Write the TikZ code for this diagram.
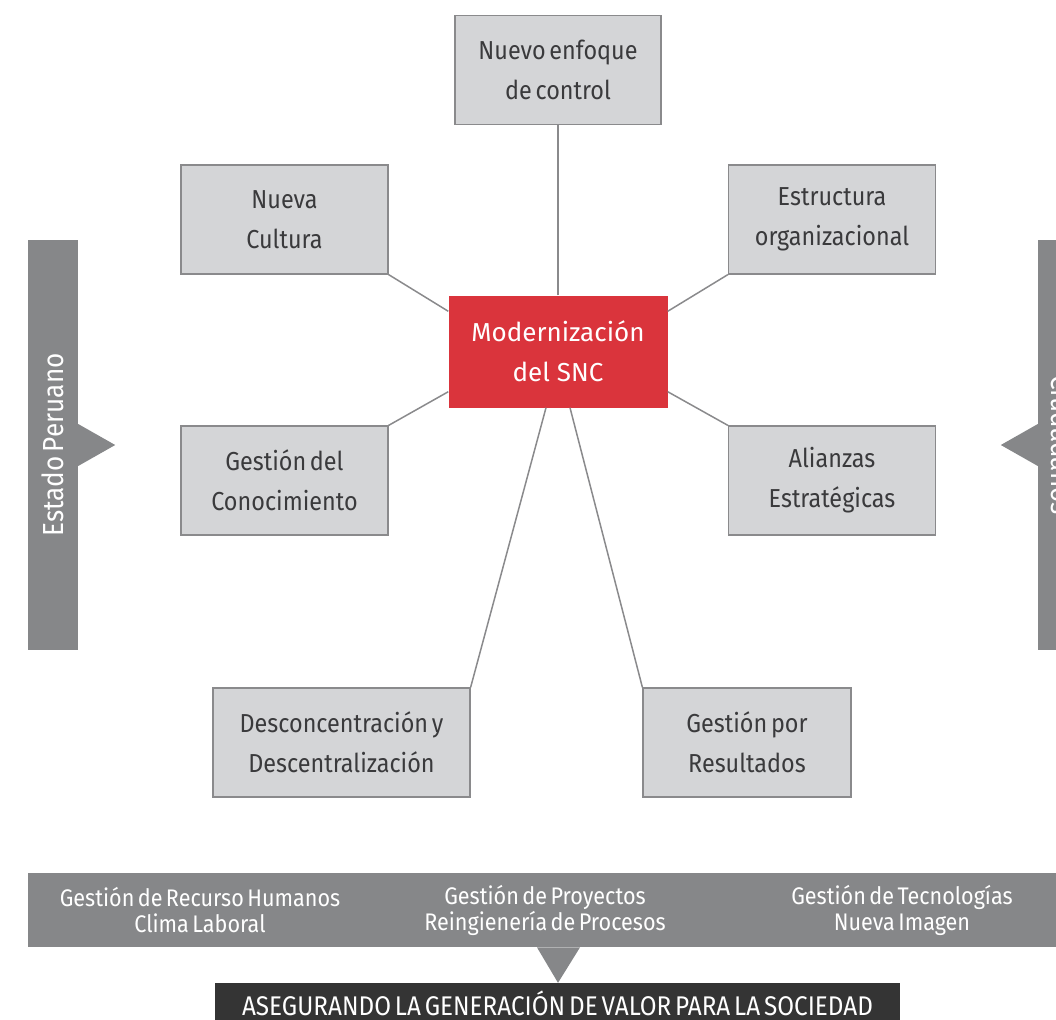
\documentclass[tikz,border=0pt]{standalone}
\usepackage{fontspec}
\setmainfont{Fira Sans}[FakeStretch=0.9, WordSpace=0.6]
\newfontfamily\widefont{Fira Sans}
\definecolor{boxfill}{RGB}{212,213,215}
\definecolor{boxline}{RGB}{138,138,140}
\definecolor{boxtext}{RGB}{58,58,60}
\definecolor{sncred}{RGB}{218,52,60}
\definecolor{barfill}{RGB}{134,135,137}
\definecolor{darkbar}{RGB}{52,52,52}
\tikzset{
  box/.style={draw=boxline, line width=1.2pt, fill=boxfill, shape=rectangle,
    minimum width=207pt, minimum height=109pt, align=center, text=boxtext,
    font=\fontsize{26}{40}\selectfont},
  bar/.style={fill=barfill, shape=rectangle, text=white, inner sep=0pt},
  link/.style={draw=boxline, line width=1.5pt}
}
\begin{document}
\begin{tikzpicture}[x=1pt, y=-1pt]
\useasboundingbox (0,0) rectangle (1056,1019);
% side bars
\node (estado) [bar, rotate=90, minimum width=410pt, minimum height=50pt,
  font=\fontsize{29}{30}\selectfont] at (53,445) {Estado Peruano};
\fill[barfill] ([yshift=21pt]estado.south) -- ([xshift=37pt]estado.south)
  -- ([yshift=-21pt]estado.south) -- cycle;
\node (ciudad) [bar, rotate=-90, minimum width=410pt, minimum height=50pt,
  font=\fontsize{29}{30}\selectfont] at (1063,445) {Ciudadanos};
\fill[barfill] ([yshift=21pt]ciudad.south) -- ([xshift=-37pt]ciudad.south)
  -- ([yshift=-21pt]ciudad.south) -- cycle;
% boxes
\node (ctrl) [box, minimum width=206pt] at (558,70) {Nuevo enfoque\\de control};
\node (cultura) [box] at (284.5,219.5) {Nueva\\Cultura};
\node (estructura) [box] at (832,219.5) {Estructura\\organizacional};
\node (snc) [draw=none, fill=sncred, shape=rectangle, minimum width=219pt,
  minimum height=112pt, align=center, text=white,
  font=\widefont\fontsize{26}{40}\selectfont] at (558,351.5) {Modernización\\del SNC};
\node (conoc) [box] at (284.5,480.5) {Gestión del\\Conocimiento};
\node (alianzas) [box] at (832,480.5) {Alianzas\\Estratégicas};
\node (descon) [box, minimum width=257pt] at (341.5,742.5) {Desconcentración y\\Descentralización};
\node (result) [box, minimum width=208pt] at (747,742.5) {Gestión por\\Resultados};
\draw[link] (snc.north) -- (ctrl.south);
\draw[link] (cultura.south east) -- ([yshift=-16pt]snc.north west);
\draw[link] (estructura.south west) -- ([yshift=-16pt]snc.north east);
\draw[link] (conoc.north east) -- ([yshift=16pt]snc.south west);
\draw[link] (alianzas.north west) -- ([yshift=16pt]snc.south east);
\draw[link] (descon.north east) -- ([xshift=-12pt]snc.south);
\draw[link] (result.north west) -- ([xshift=12pt]snc.south);
% bottom
\node (gestion) [bar, anchor=north west, minimum width=1072pt, minimum height=74pt] at (28,873) {};
\node (rrhh) [align=center, text=white, font=\fontsize{24}{26}\selectfont] at (200,910)
  {Gestión de Recurso Humanos\\Clima Laboral};
\node (proy) [align=center, text=white, font=\fontsize{24}{26}\selectfont] at (545,910)
  {Gestión de Proyectos\\Reingienería de Procesos};
\node (tecno) [align=center, text=white, font=\fontsize{24}{26}\selectfont] at (902,910)
  {Gestión de Tecnologías\\Nueva Imagen};
\node (valor) [fill=darkbar, shape=rectangle, minimum width=685pt, minimum height=40pt,
  text=white, font=\fontsize{27}{28}\selectfont] at (557.5,1003)
  {ASEGURANDO LA GENERACIÓN DE VALOR PARA LA SOCIEDAD};
\fill[barfill] (gestion.south -| 537,0) -- (gestion.south -| 580,0)
  -- (valor.north -| 558,0) -- cycle;
\end{tikzpicture}
\end{document}
